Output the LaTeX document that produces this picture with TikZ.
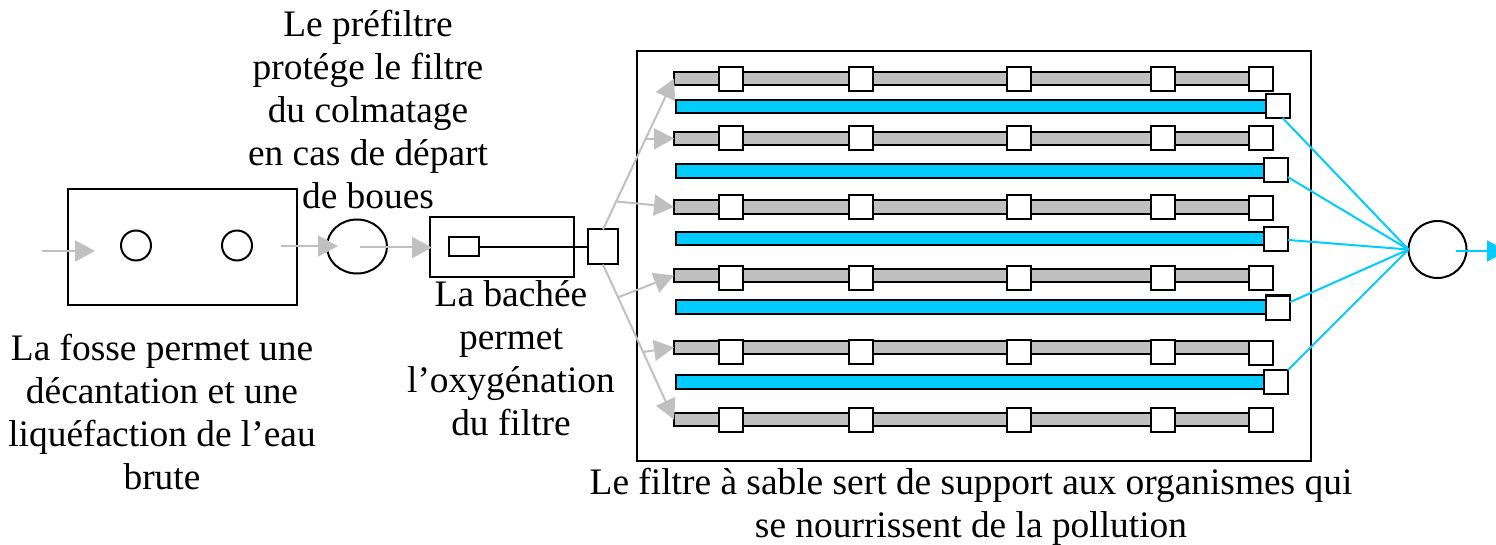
\documentclass[tikz,border=0pt]{standalone}
\usepackage{fontspec}
\setmainfont{Liberation Serif}
\usepackage{xcolor}
\usepgflibrary{shapes}
\usetikzlibrary{arrows.meta}
\definecolor{eaubrute}{HTML}{C0C0C0}
\definecolor{eautraitee}{HTML}{00CCFF}

\begin{document}
\begin{tikzpicture}[x=1pt,y=-1pt,line width=2pt,
	every node/.style={inner sep=0pt,outer sep=0pt},
	boite/.style={draw,rectangle},
	rond/.style={draw,ellipse},
	barregrise/.style={draw,fill=eaubrute,minimum width=576pt,minimum height=13.5pt},
	barrebleue/.style={draw,fill=eautraitee,minimum width=590pt,minimum height=13.5pt},
	carre/.style={draw,fill=white,minimum size=24pt},
	texte/.style={align=center,font=\fontsize{37.4pt}{43pt}\selectfont},
	brute/.style={draw=eaubrute,-{Triangle[length=20pt,width=21pt]}},
	traitee/.style={draw=eautraitee},
	sortie/.style={draw=eautraitee,-{Triangle[length=20pt,width=21pt]}}]
	\useasboundingbox (0,0) rectangle (1496,545);

	\node[boite,minimum width=229pt,minimum height=116pt]	(fosse)		at (182.5,247)	{};
	\node[rond,minimum width=30pt,minimum height=30pt]		(trou1)		at (136,245.5)	{};
	\node[rond,minimum width=30pt,minimum height=30pt]		(trou2)		at (237,245.5)	{};
	\node[rond,minimum width=60pt,minimum height=54pt]		(prefiltre)	at (357,246.5)	{};
	\node[boite,minimum width=144pt,minimum height=60pt]	(bachee)	at (501.5,247.5)	{};
	\node[boite,minimum width=30pt,minimum height=19pt]		(auget)		at (464,247)	{};
	\node[boite,minimum width=30pt,minimum height=35pt]		(regard)	at (603,247)	{};
	\node[boite,minimum width=674pt,minimum height=410pt]	(filtre)	at (974,256)	{};
	\node[rond,minimum width=58pt,minimum height=57pt]		(exutoire)	at (1437.5,249.5)	{};

	\node[barregrise]	(G1)	at (962,78.5)	{};
	\node[barregrise]	(G2)	at (962,138.5)	{};
	\node[barregrise]	(G3)	at (962,207)	{};
	\node[barregrise]	(G4)	at (962,275.5)	{};
	\node[barregrise]	(G5)	at (962,347.5)	{};
	\node[barregrise]	(G6)	at (962,419.5)	{};

	\node[barrebleue]	(B1)	at (971,106.5)	{};
	\node[barrebleue]	(B2)	at (971,171)	{};
	\node[barrebleue]	(B3)	at (971,238.5)	{};
	\node[barrebleue]	(B4)	at (971,307)	{};
	\node[barrebleue]	(B5)	at (971,382)	{};

	\node[carre]	(G1a)	at (730.5,79)	{};
	\node[carre]	(G1b)	at (861,79)		{};
	\node[carre]	(G1c)	at (1019,79)	{};
	\node[carre]	(G1d)	at (1163,79)	{};
	\node[carre]	(G1e)	at (1261,79)	{};
	\node[carre]	(G2a)	at (730.5,138)	{};
	\node[carre]	(G2b)	at (861,138)	{};
	\node[carre]	(G2c)	at (1019,138)	{};
	\node[carre]	(G2d)	at (1163,138)	{};
	\node[carre]	(G2e)	at (1261,138)	{};
	\node[carre]	(G3a)	at (730.5,207)	{};
	\node[carre]	(G3b)	at (861,207)	{};
	\node[carre]	(G3c)	at (1019,207)	{};
	\node[carre]	(G3d)	at (1163,207)	{};
	\node[carre]	(G3e)	at (1261,208)	{};
	\node[carre]	(G4a)	at (730.5,278)	{};
	\node[carre]	(G4b)	at (861,278)	{};
	\node[carre]	(G4c)	at (1019,278)	{};
	\node[carre]	(G4d)	at (1163,278)	{};
	\node[carre]	(G4e)	at (1261,278)	{};
	\node[carre]	(G5a)	at (730.5,352)	{};
	\node[carre]	(G5b)	at (861,352)	{};
	\node[carre]	(G5c)	at (1019,352)	{};
	\node[carre]	(G5d)	at (1163,352)	{};
	\node[carre]	(G5e)	at (1261,353)	{};
	\node[carre]	(G6a)	at (730.5,420)	{};
	\node[carre]	(G6b)	at (861,420)	{};
	\node[carre]	(G6c)	at (1019,420)	{};
	\node[carre]	(G6d)	at (1163,420)	{};
	\node[carre]	(G6e)	at (1261,420)	{};

	\node[carre]	(B1e)	at (1278,106)	{};
	\node[carre]	(B2e)	at (1276,170)	{};
	\node[carre]	(B3e)	at (1276,239)	{};
	\node[carre]	(B4e)	at (1278,307.5)	{};
	\node[carre]	(B5e)	at (1276,382)	{};

	\node[texte]	(tprefiltre)	at (368,110)	{Le préfiltre\\protége le filtre\\du colmatage\\en cas de départ\\de boues};
	\node[texte]	(tfosse)		at (162,412)	{La fosse permet une\\décantation et une\\liquéfaction de l’eau\\brute};
	\node[texte]	(tbachee)		at (511,358)	{La bachée\\permet\\l’oxygénation\\du filtre};
	\node[texte]	(tfiltre)		at (971,507)	{Le filtre à sable sert de support aux organismes qui\\se nourrissent de la pollution};

	\coordinate (entree)	at (42,251);
	\coordinate (versfosse)	at (95,251);
	\coordinate (depart1)	at (281,246);
	\coordinate (arrivee1)	at (338,246);
	\coordinate (depart2)	at (360,247.5);
	\coordinate (arrivee2)	at (432,247.5);
	\coordinate (fourche1)	at (646,139);
	\coordinate (fourche2)	at (616.5,201.5);
	\coordinate (fourche3)	at (619,297);
	\coordinate (fourche4)	at (643,352);
	\coordinate (depart3)	at (1456,251);
	\coordinate (rejet)		at (1507,251);

	\path	(auget)		edge (regard)
			(entree)	edge [brute] (versfosse)
			(depart1)	edge [brute] (arrivee1)
			(depart2)	edge [brute] (arrivee2)
			(regard.north)	edge [brute] (G1.west)
			(regard.south)	edge [brute] (G6.west)
			(fourche1)	edge [brute] (G2.west)
			(fourche2)	edge [brute] (G3.west)
			(fourche3)	edge [brute] (G4.west)
			(fourche4)	edge [brute] (G5.west)
			(B1e.-69)	edge [traitee] (exutoire.west)
			(B2e)	edge [traitee] (exutoire.west)
			(B3e)	edge [traitee] (exutoire.west)
			(B4e)	edge [traitee] (exutoire.west)
			(B5e)	edge [traitee] (exutoire.west)
			(depart3)	edge [sortie] (rejet);
\end{tikzpicture}
\end{document}
